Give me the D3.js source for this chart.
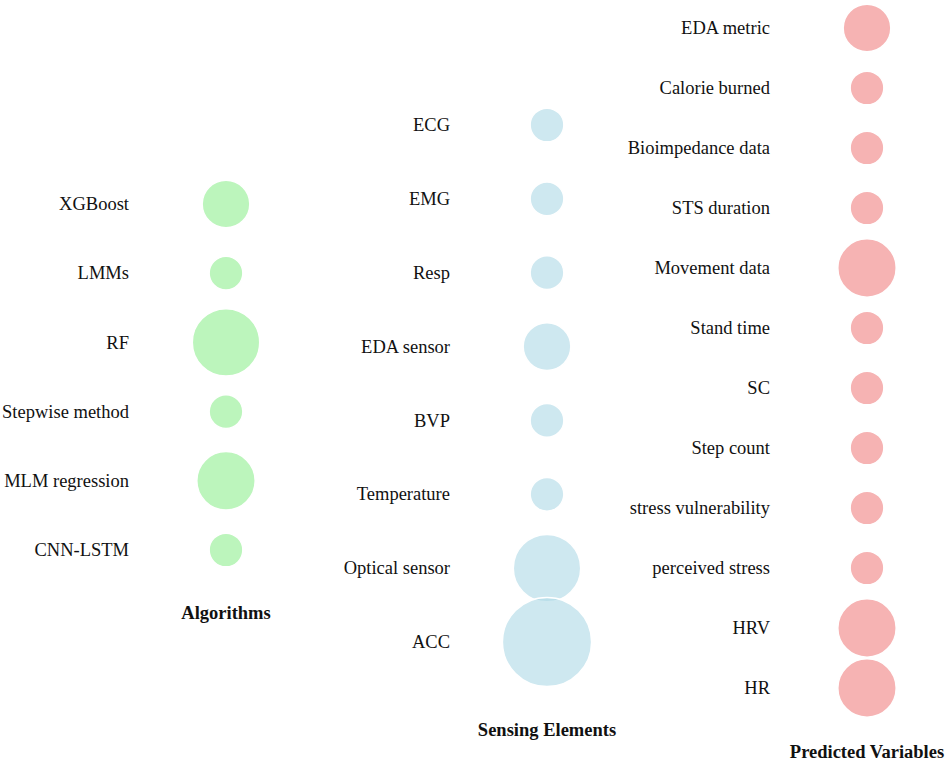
<!DOCTYPE html>
<html>
<head>
<meta charset="utf-8">
<script src="https://cdn.jsdelivr.net/npm/d3@7"></script>
<style>
  html, body { margin: 0; padding: 0; background: #fff; }
  svg { display: block; }
</style>
</head>
<body>
<svg id="chart" width="947" height="762"></svg>
<script>
// ---- Data ----
const algorithmNames = ["XGBoost", "LMMs", "RF", "Stepwise method", "MLM regression", "CNN-LSTM"];
const algorithmCounts = [2, 1, 4, 1, 3, 1];

const sensingNames = ["ECG", "EMG", "Resp", "EDA sensor", "BVP", "Temperature", "Optical sensor", "ACC"];
const sensingCounts = [1, 1, 1, 2, 1, 1, 4, 7];

const predictedNames = ["EDA metric", "Calorie burned", "Bioimpedance data", "STS duration", "Movement data",
  "Stand time", "SC", "Step count", "stress vulnerability", "perceived stress", "HRV", "HR"];
const predictedCounts = [2, 1, 1, 1, 3, 1, 1, 1, 1, 1, 3, 3];

const groupTitles = ["Algorithms", "Sensing Elements", "Predicted Variables"];

// ---- Layout ----
const FONT = "Liberation Serif";
const svg = d3.select("#chart");
const rScale = d3.scaleSqrt().domain([0, 7]).range([0, 44.6]);

const columns = [
  { names: algorithmNames, counts: algorithmCounts, title: groupTitles[0],
    cx: 226, y0: 204, y1: 550, titleY: 613, fill: "#90ee90" },
  { names: sensingNames, counts: sensingCounts, title: groupTitles[1],
    cx: 547, y0: 125, y1: 642, titleY: 730, fill: "#add8e6" },
  { names: predictedNames, counts: predictedCounts, title: groupTitles[2],
    cx: 867, y0: 28, y1: 688, titleY: 752, fill: "#f08080" }
];

columns.forEach(col => {
  const y = d3.scalePoint().domain(col.names).range([col.y0, col.y1]);
  const data = col.names.map((n, i) => ({ name: n, value: col.counts[i] }));
  const g = svg.append("g");

  g.selectAll("circle").data(data).join("circle")
    .attr("cx", col.cx)
    .attr("cy", d => y(d.name))
    .attr("r", d => rScale(d.value))
    .attr("fill", col.fill)
    .attr("fill-opacity", 0.6)
    .attr("stroke", "#ffffff")
    .attr("stroke-width", 1.5);

  g.selectAll("text.label").data(data).join("text")
    .attr("class", "label")
    .attr("x", col.cx - 97)
    .attr("y", d => y(d.name))
    .attr("dy", "0.33em")
    .attr("text-anchor", "end")
    .attr("font-family", FONT)
    .attr("font-size", 18.5)
    .attr("fill", "#111")
    .text(d => d.name);

  g.append("text")
    .attr("x", col.cx)
    .attr("y", col.titleY)
    .attr("dy", "0.33em")
    .attr("text-anchor", "middle")
    .attr("font-family", FONT)
    .attr("font-size", 18.5)
    .attr("font-weight", "bold")
    .attr("fill", "#111")
    .text(col.title);
});
</script>
</body>
</html>
